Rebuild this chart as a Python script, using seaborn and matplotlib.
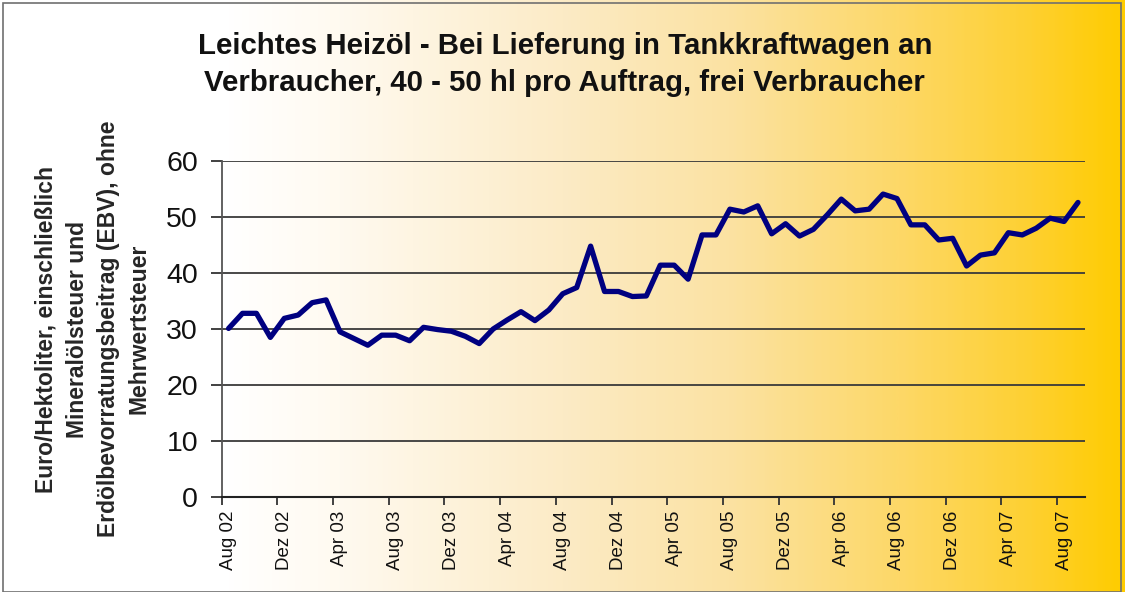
import matplotlib
matplotlib.use("Agg")
import matplotlib.pyplot as plt
import seaborn as sns
import numpy as np
import pandas as pd
from matplotlib.colors import LinearSegmentedColormap
from matplotlib.patches import Rectangle

# Monthly prices, Aug 2002 - Sep 2007 (Euro per hectolitre)
month_names = ["Jan", "Feb", "Mrz", "Apr", "Mai", "Jun",
               "Jul", "Aug", "Sep", "Okt", "Nov", "Dez"]
start_year, start_month = 2002, 8
prices = [
    30.1, 32.8, 32.8, 28.5, 31.9,                                # 2002
    32.5, 34.7, 35.2, 29.5, 28.3, 27.1, 28.9, 28.9, 27.9, 30.3, 29.9, 29.6,  # 2003
    28.7, 27.4, 30.0, 31.6, 33.1, 31.5, 33.4, 36.3, 37.4, 44.8, 36.7, 36.7,  # 2004
    35.8, 35.9, 41.4, 41.4, 38.9, 46.8, 46.8, 51.4, 50.9, 52.0, 47.0, 48.8,  # 2005
    46.6, 47.8, 50.4, 53.2, 51.1, 51.4, 54.1, 53.3, 48.6, 48.6, 45.9, 46.2,  # 2006
    41.25, 43.2, 43.6, 47.2, 46.8, 48.0, 49.8, 49.2, 52.6,                   # 2007
]
months = []
for i in range(len(prices)):
    m = (start_month - 1 + i) % 12
    y = start_year + (start_month - 1 + i) // 12
    months.append(f"{month_names[m]} {y % 100:02d}")

y_ticks = [0, 10, 20, 30, 40, 50, 60]
label_every = 4

title = ("Leichtes Heizöl - Bei Lieferung in Tankkraftwagen an\n"
         "Verbraucher, 40 - 50 hl pro Auftrag, frei Verbraucher")
y_label = ("Euro/Hektoliter, einschließlich\nMineralölsteuer und\n"
           "Erdölbevorratungsbeitrag (EBV), ohne\nMehrwertsteuer")

sns.set_theme(style="white")
plt.rcParams["font.family"] = ["Liberation Sans", "DejaVu Sans"]

df = pd.DataFrame({"idx": np.arange(len(prices)), "month": months, "price": prices})

fig = plt.figure(figsize=(11.25, 5.92), dpi=100)

# gradient background (white -> gold)
bg = fig.add_axes([0, 0, 1, 1], zorder=-10)
cmap = LinearSegmentedColormap.from_list("bg", [
    (0.0, "#FFFFFF"), (0.2, "#FFFFFF"), (0.3, "#FFFAF0"), (0.5, "#FCEBC6"),
    (0.65, "#FBE2A2"), (0.8, "#FDD868"), (0.92, "#FED030"), (1.0, "#FFCC00")])
bg.imshow(np.linspace(0, 1, 400).reshape(1, -1), cmap=cmap, aspect="auto",
          extent=[0, 1, 0, 1])
bg.set_axis_off()
fig.patches.append(Rectangle((0.003, 0.0), 0.993, 0.995, transform=fig.transFigure,
                             fill=False, edgecolor="#707070", lw=1.2))

ax = fig.add_axes([0.197, 0.1605, 0.7674, 0.5675])
ax.set_facecolor("none")
sns.lineplot(data=df, x="idx", y="price", ax=ax, color="#000080", lw=3.8)

ax.set_xlim(-0.5, len(prices) - 0.5)
ax.set_ylim(0, 60)
ax.set_yticks(y_ticks)
ax.grid(axis="y", color="#3a3a3a", lw=1.3)
ax.grid(axis="x", visible=False)

lab_pos = np.arange(0, len(prices), label_every)
ax.set_xticks(lab_pos)
ax.set_xticklabels([months[i] for i in lab_pos], rotation=90, fontsize=13.5)
ax.set_xticks(lab_pos - 0.5, minor=True)
ax.tick_params(axis="x", which="major", length=0, pad=10, colors="#111111")
ax.tick_params(axis="x", which="minor", length=6, width=1.3, color="#333333",
               direction="out", bottom=True)
ax.tick_params(axis="y", length=8, width=1.3, color="#333333", direction="out",
               left=True, labelsize=20.5, pad=9, labelcolor="#111111")

for s in ["top", "right"]:
    ax.spines[s].set_visible(False)
ax.spines["left"].set_color("#555555")
ax.spines["left"].set_linewidth(1.3)
ax.spines["bottom"].set_color("#222222")
ax.spines["bottom"].set_linewidth(1.5)

ax.set_xlabel("")
ax.set_ylabel(y_label, fontsize=16.5, fontweight="bold", linespacing=1.45,
              va="center", ha="center", multialignment="center")
ax.yaxis.set_label_coords(-0.1495, 0.5)

fig.text(0.502, 0.891, title, ha="center", va="center", fontsize=21.2,
         fontweight="bold", linespacing=1.45, color="#111111")

fig.savefig("out.png", dpi=100)
